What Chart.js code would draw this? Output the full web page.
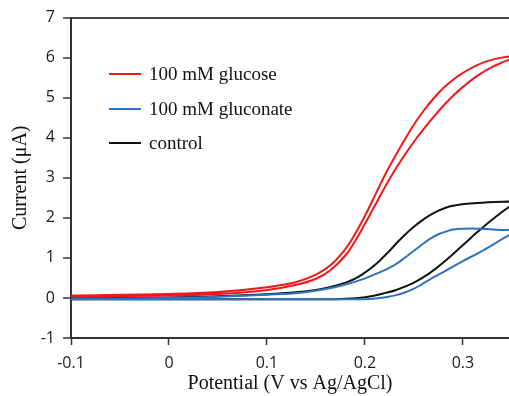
<!DOCTYPE html>
<html>
<head>
<meta charset="utf-8">
<script src="https://cdn.jsdelivr.net/npm/chart.js@4"></script>
<style>
    body { margin: 0; background: #fff; }
    #wrap { position: relative; width: 509px; height: 396px; }
    #legend { position: absolute; left: 109px; top: 57px; font-family: "Liberation Serif", serif; font-size: 19px; color: #111; }
    .row { display: flex; align-items: center; height: 34.5px; }
    .swatch { width: 32px; height: 0; border-top: 2px solid; margin-right: 8px; }
</style>
</head>
<body>
<div id="wrap">
    <canvas id="cv" width="509" height="396"></canvas>
    <div id="legend"></div>
</div>
<script>
// potential (V) and current (uA), forward scan then return scan
const glucoseV = [-0.1, 0.0, 0.05, 0.1, 0.13, 0.15, 0.165, 0.18, 0.19, 0.2, 0.21, 0.22, 0.23, 0.24, 0.25, 0.26, 0.27, 0.28, 0.29, 0.3, 0.315, 0.33, 0.347, 0.362,
                  0.347, 0.33, 0.315, 0.3, 0.29, 0.28, 0.27, 0.26, 0.25, 0.24, 0.23, 0.22, 0.21, 0.2, 0.19, 0.18, 0.165, 0.15, 0.13, 0.1, 0.05, 0.0, -0.1];
const glucoseI = [0.04, 0.06, 0.1, 0.2, 0.33, 0.48, 0.7, 1.06, 1.42, 1.85, 2.3, 2.75, 3.17, 3.55, 3.9, 4.22, 4.52, 4.8, 5.05, 5.27, 5.55, 5.77, 5.95, 6.07,
                  6.03, 5.95, 5.82, 5.62, 5.45, 5.24, 4.98, 4.68, 4.33, 3.93, 3.5, 3.05, 2.55, 2.05, 1.6, 1.22, 0.82, 0.58, 0.4, 0.27, 0.15, 0.1, 0.06];

const gluconateV = [-0.1, 0.0, 0.1, 0.2, 0.215, 0.224, 0.232, 0.24, 0.249, 0.258, 0.266, 0.275, 0.283, 0.3, 0.317, 0.332, 0.347, 0.362,
                    0.347, 0.33, 0.317, 0.3, 0.29, 0.283, 0.275, 0.266, 0.258, 0.249, 0.24, 0.232, 0.224, 0.215, 0.198, 0.181, 0.164, 0.134, 0.1, 0.05, 0.0, -0.1];
const gluconateI = [-0.03, -0.03, -0.03, -0.03, 0.0, 0.03, 0.07, 0.13, 0.22, 0.34, 0.46, 0.58, 0.69, 0.92, 1.14, 1.35, 1.57, 1.73,
                    1.7, 1.71, 1.73, 1.73, 1.71, 1.66, 1.59, 1.47, 1.33, 1.16, 0.99, 0.85, 0.74, 0.64, 0.47, 0.34, 0.24, 0.13, 0.08, 0.03, 0.0, -0.02];

const controlV = [-0.1, 0.0, 0.1, 0.17, 0.19, 0.2, 0.21, 0.22, 0.232, 0.249, 0.266, 0.283, 0.3, 0.315, 0.33, 0.347, 0.362,
                  0.347, 0.32, 0.304, 0.29, 0.283, 0.275, 0.266, 0.258, 0.249, 0.24, 0.232, 0.224, 0.215, 0.206, 0.198, 0.19, 0.181, 0.164, 0.15, 0.13, 0.1, 0.05, 0.0, -0.1];
const controlI = [-0.03, -0.03, -0.03, -0.03, -0.01, 0.02, 0.06, 0.12, 0.2, 0.37, 0.62, 0.95, 1.32, 1.65, 1.96, 2.27, 2.45,
                  2.41, 2.38, 2.35, 2.3, 2.26, 2.18, 2.06, 1.93, 1.76, 1.56, 1.36, 1.15, 0.93, 0.74, 0.6, 0.48, 0.39, 0.27, 0.2, 0.14, 0.09, 0.04, 0.01, -0.01];

const seriesLabels = ['100 mM glucose', '100 mM gluconate', 'control'];
const seriesColors = ['#f01818', '#2f72bd', '#111111'];
const xTicks = [-0.1, 0, 0.1, 0.2, 0.3];

const toPoints = (xs, ys) => xs.map((x, i) => ({ x: x, y: ys[i] }));

const datasets = [
    toPoints(glucoseV, glucoseI),
    toPoints(gluconateV, gluconateI),
    toPoints(controlV, controlI)
].map((pts, i) => ({
    label: seriesLabels[i],
    data: pts,
    borderColor: seriesColors[i],
    backgroundColor: seriesColors[i],
    borderWidth: 2,
    showLine: true,
    pointRadius: 0,
    tension: 0.4
}));

const axisColor = '#333';
const chart = new Chart(document.getElementById('cv'), {
    type: 'scatter',
    data: { datasets: datasets },
    options: {
        responsive: false,
        animation: false,
        layout: { padding: { top: 14, right: 0, left: 0, bottom: 0 } },
        plugins: { legend: { display: false }, tooltip: { enabled: false } },
        scales: {
            x: {
                min: -0.1,
                max: 0.347,
                afterBuildTicks: (s) => { s.ticks = xTicks.map(v => ({ value: v })); },
                afterFit: (s) => { s.height = 58; },
                border: { color: axisColor, width: 2 },
                grid: { drawOnChartArea: false, tickLength: 7, tickColor: axisColor, tickWidth: 1.5 },
                ticks: {
                    padding: 9,
                    color: '#1a1a1a',
                    font: { family: 'Open Sans', size: 16 },
                    maxRotation: 0,
                    callback: (v) => String(Math.round(v * 10) / 10)
                },
                title: {
                    display: true,
                    text: 'Potential (V vs Ag/AgCl)',
                    color: '#111',
                    font: { family: 'Liberation Serif', size: 20 },
                    padding: { top: 0, bottom: 0 }
                }
            },
            y: {
                min: -1,
                max: 7,
                afterFit: (s) => { s.width = 71; },
                border: { color: axisColor, width: 2 },
                grid: {
                    color: (c) => c.tick && c.tick.value === 7 ? '#444' : 'rgba(0,0,0,0)',
                    lineWidth: 2,
                    tickLength: 8,
                    tickColor: axisColor,
                    tickWidth: 1.5
                },
                ticks: {
                    stepSize: 1,
                    padding: 8,
                    color: '#1a1a1a',
                    font: { family: 'Open Sans', size: 16 }
                },
                title: {
                    display: true,
                    text: 'Current (\u03bcA)',
                    color: '#111',
                    font: { family: 'Liberation Serif', size: 20 },
                    padding: { top: 9, bottom: 0 }
                }
            }
        }
    }
});

// legend inside the plot
const legendEl = document.getElementById('legend');
chart.data.datasets.forEach(ds => {
    const row = document.createElement('div');
    row.className = 'row';
    const sw = document.createElement('span');
    sw.className = 'swatch';
    sw.style.borderColor = ds.borderColor;
    const txt = document.createElement('span');
    txt.textContent = ds.label;
    row.appendChild(sw);
    row.appendChild(txt);
    legendEl.appendChild(row);
});
</script>
</body>
</html>
